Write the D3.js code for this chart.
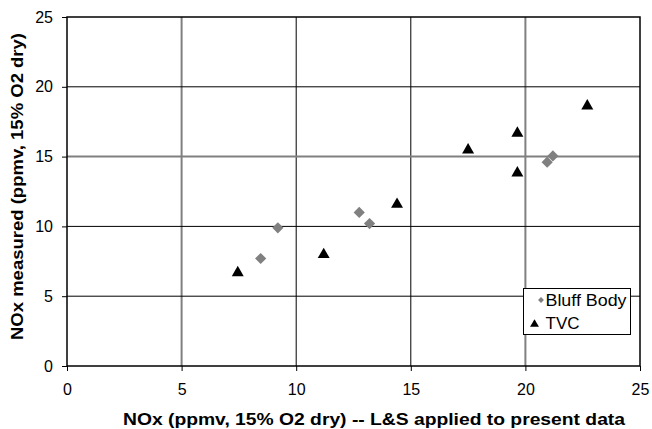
<!DOCTYPE html>
<html>
<head>
<meta charset="utf-8">
<title>NOx measured vs L&S</title>
<script src="https://d3js.org/d3.v7.min.js"></script>
<style>
  html, body { margin: 0; padding: 0; background: #fff; }
  svg { display: block; font-family: Arial, "Liberation Sans", sans-serif; }
</style>
</head>
<body>
<svg id="chart" width="652" height="429"></svg>
<script>
// data
const xTicks = [0, 5, 10, 15, 20, 25];
const yTicks = [0, 5, 10, 15, 20, 25];
const bluffX = [8.45, 9.2, 12.75, 13.2, 20.95, 21.2];
const bluffY = [7.7, 9.9, 11.0, 10.2, 14.6, 15.05];
const tvcX = [7.45, 11.2, 14.4, 17.5, 19.65, 19.65, 22.7];
const tvcY = [6.8, 8.1, 11.7, 15.6, 16.8, 13.95, 18.75];
const seriesNames = ["Bluff Body", "TVC"];

const width = 652, height = 429;
const margin = {top: 17, right: 12, bottom: 63, left: 67};

const svg = d3.select("#chart");

const x = d3.scaleLinear().domain([0, 25]).range([margin.left, width - margin.right]);
const y = d3.scaleLinear().domain([0, 25]).range([height - margin.bottom, margin.top]);

// some gridlines in the original render a bit softer (grey, wider)
const softX = [5, 20], softY = [15];

// gridlines
svg.append("g")
  .selectAll("line")
  .data(xTicks.slice(1, -1))
  .join("line")
  .attr("x1", d => x(d)).attr("x2", d => x(d))
  .attr("y1", y(25)).attr("y2", y(0))
  .attr("stroke", d => softX.includes(d) ? "#808080" : "#000")
  .attr("stroke-width", d => softX.includes(d) ? 2 : 1);

svg.append("g")
  .selectAll("line")
  .data(yTicks.slice(1, -1))
  .join("line")
  .attr("x1", x(0)).attr("x2", x(25))
  .attr("y1", d => y(d)).attr("y2", d => y(d))
  .attr("stroke", d => softY.includes(d) ? "#808080" : "#000")
  .attr("stroke-width", d => softY.includes(d) ? 2 : 1);

// plot frame
svg.append("rect")
  .attr("x", x(0)).attr("y", y(25))
  .attr("width", x(25) - x(0)).attr("height", y(0) - y(25))
  .attr("fill", "none").attr("stroke", "#000").attr("stroke-width", 1.5);

// axes
const xAxis = svg.append("g")
  .attr("transform", `translate(0,${y(0)})`)
  .call(d3.axisBottom(x).tickValues(xTicks).tickSize(5).tickPadding(13).tickFormat(d3.format("d")));
const yAxis = svg.append("g")
  .attr("transform", `translate(${x(0)},0)`)
  .call(d3.axisLeft(y).tickValues(yTicks).tickSize(5).tickPadding(9).tickFormat(d3.format("d")));

[xAxis, yAxis].forEach(a => {
  a.select(".domain").remove();
  a.selectAll("line").attr("stroke", "#000");
  a.selectAll("text").attr("font-size", 16).attr("fill", "#000")
    .attr("font-family", "Arial, 'Liberation Sans', sans-serif");
});

// axis titles (original text is stretched a little wider than normal)
svg.append("text")
  .attr("x", 123)
  .attr("y", 425)
  .attr("text-anchor", "start")
  .attr("font-size", 16).attr("font-weight", "bold")
  .attr("textLength", 502).attr("lengthAdjust", "spacingAndGlyphs")
  .text("NOx (ppmv, 15% O2 dry) -- L&S applied to present data");

svg.append("text")
  .attr("transform", `translate(23,186.5) rotate(-90)`)
  .attr("text-anchor", "middle")
  .attr("font-size", 17).attr("font-weight", "bold")
  .attr("textLength", 307).attr("lengthAdjust", "spacingAndGlyphs")
  .text("NOx measured (ppmv, 15% O2 dry)");

// markers
const diamond = d3.symbol().type(d3.symbolDiamond2).size(80);
const triangle = d3.symbol().type(d3.symbolTriangle).size(62);

svg.append("g")
  .selectAll("path")
  .data(d3.zip(bluffX, bluffY))
  .join("path")
  .attr("d", diamond)
  .attr("transform", d => `translate(${x(d[0])},${y(d[1])})`)
  .attr("fill", "#808080");

// triangle path is centred on its centroid; shift so its box centre sits on the point
svg.append("g")
  .selectAll("path")
  .data(d3.zip(tvcX, tvcY))
  .join("path")
  .attr("d", triangle)
  .attr("transform", d => `translate(${x(d[0])},${y(d[1]) + 1.7})`)
  .attr("fill", "#000");

// legend
const lg = svg.append("g").attr("transform", "translate(523.5,288.5)");
lg.append("rect")
  .attr("width", 107).attr("height", 46)
  .attr("fill", "#fff").attr("stroke", "#000").attr("stroke-width", 1);
const items = lg.selectAll("g.item")
  .data(seriesNames)
  .join("g")
  .attr("class", "item")
  .attr("transform", (d, i) => `translate(0,${11.5 + i * 23})`);
items.append("path")
  .attr("d", (d, i) => i === 0 ? d3.symbol().type(d3.symbolDiamond2).size(22)() : d3.symbol().type(d3.symbolTriangle).size(34)())
  .attr("transform", (d, i) => i === 0 ? "translate(17.5,0)" : "translate(11,1.3)")
  .attr("fill", (d, i) => i === 0 ? "#808080" : "#000");
items.append("text")
  .attr("x", 22).attr("dy", "0.36em")
  .attr("font-size", 16)
  .attr("textLength", (d, i) => i === 0 ? 81 : 34)
  .attr("lengthAdjust", "spacingAndGlyphs")
  .text(d => d);
</script>
</body>
</html>
